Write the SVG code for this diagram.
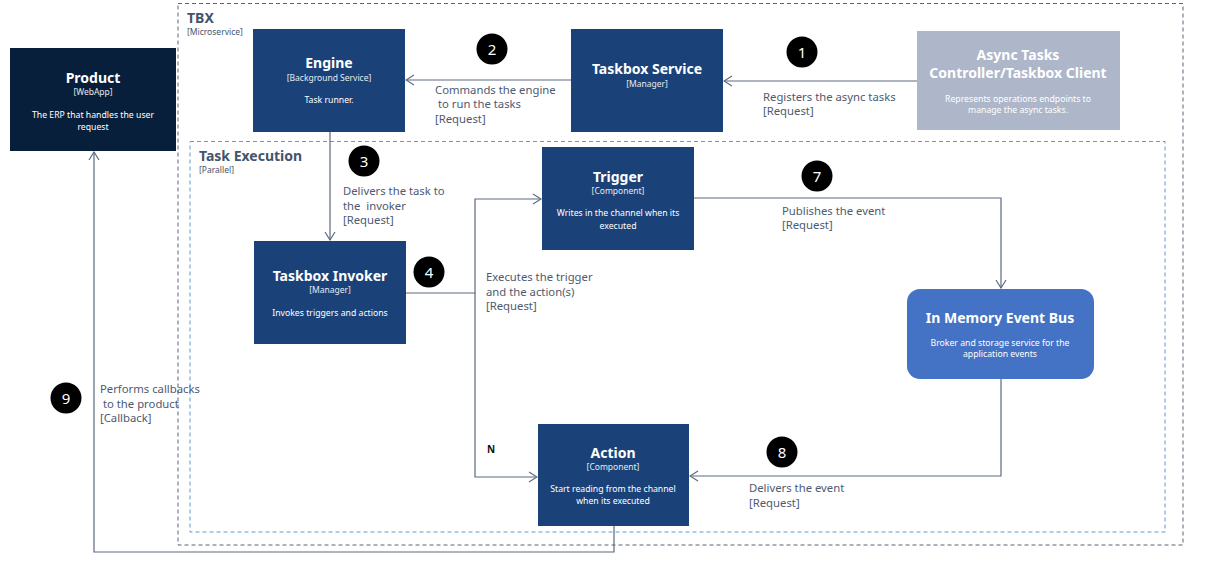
<svg xmlns="http://www.w3.org/2000/svg" width="1227" height="578" viewBox="0 0 1227 578">
<style>
text{font-family:"Noto Sans","Open Sans",sans-serif;white-space:pre}
.t{font-size:14px;font-weight:bold;fill:#fff;text-anchor:middle}
.s{font-size:8.5px;fill:#e6e9ef;text-anchor:middle}
.d{font-size:8.7px;fill:#fff;text-anchor:middle}
.l{font-size:11.3px;fill:#4e5a70}
.bt{font-size:14px;font-weight:bold;fill:#44546a}
.bs{font-size:8.5px;fill:#44546a}
.n{font-size:15px;fill:#fff;text-anchor:middle}
.c{fill:none;stroke:#5d6a80;stroke-width:1.2}
.dk{fill:#1a4279}
</style>
<defs>
<marker id="a" markerWidth="10" markerHeight="12" refX="9" refY="6" orient="auto" markerUnits="userSpaceOnUse">
<path d="M1,1 L9,6 L1,11" fill="none" stroke="#5d6a80" stroke-width="1.2"/>
</marker>
</defs>
<g id="tbx-boundary">
<rect x="178" y="3.5" width="1005" height="541.5" fill="none" stroke="#5a6474" stroke-width="1" stroke-dasharray="4,3"/>
<text class="bt" x="187" y="23">TBX</text>
<text class="bs" x="187" y="35">[Microservice]</text>
</g>
<g id="task-execution-boundary">
<rect x="190" y="141.5" width="975" height="390.5" fill="none" stroke="#5b9bd5" stroke-width="1" stroke-dasharray="4,3"/>
<text class="bt" x="199" y="161">Task Execution</text>
<text class="bs" x="199" y="173">[Parallel]</text>
</g>
<g id="connectors">
<line class="c" x1="917" y1="81" x2="724" y2="81" marker-end="url(#a)"/>
<line class="c" x1="571" y1="80" x2="406" y2="80" marker-end="url(#a)"/>
<line class="c" x1="330" y1="132" x2="330" y2="240" marker-end="url(#a)"/>
<polyline class="c" points="406,293 475,293 475,199 541,199" marker-end="url(#a)"/>
<polyline class="c" points="475,293 475,477 537,477" marker-end="url(#a)"/>
<polyline class="c" points="694,198 1001,198 1001,288" marker-end="url(#a)"/>
<polyline class="c" points="1001,379 1001,476 690,476" marker-end="url(#a)"/>
<polyline class="c" points="614,526 614,552 94,552 94,152" marker-end="url(#a)"/>
<text class="l" x="763" y="101">Registers the async tasks</text>
<text class="l" x="763" y="115">[Request]</text>
<text class="l" x="435" y="94">Commands the engine</text>
<text class="l" x="435" y="108"> to run the tasks</text>
<text class="l" x="435" y="123">[Request]</text>
<text class="l" x="343" y="195">Delivers the task to</text>
<text class="l" x="343" y="210">the  invoker</text>
<text class="l" x="343" y="224">[Request]</text>
<text class="l" x="486" y="281">Executes the trigger</text>
<text class="l" x="486" y="296">and the action(s)</text>
<text class="l" x="486" y="310">[Request]</text>
<text x="487" y="453" style="font-size:10px;font-weight:bold;fill:#111">N</text>
<text class="l" x="782" y="215">Publishes the event</text>
<text class="l" x="782" y="229">[Request]</text>
<text class="l" x="749" y="492">Delivers the event</text>
<text class="l" x="749" y="507">[Request]</text>
<text class="l" x="100" y="393">Performs callbacks</text>
<text class="l" x="100" y="408"> to the product</text>
<text class="l" x="100" y="422">[Callback]</text>
</g>
<g id="step-markers">
<circle cx="802" cy="52" r="15.5"/><text class="n" x="802" y="57.5">1</text>
<circle cx="492" cy="49" r="15.5"/><text class="n" x="492" y="54.5">2</text>
<circle cx="364" cy="161" r="15.5"/><text class="n" x="364" y="166.5">3</text>
<circle cx="429" cy="272" r="15.5"/><text class="n" x="429" y="277.5">4</text>
<circle cx="817" cy="176" r="15.5"/><text class="n" x="817" y="181.5">7</text>
<circle cx="782" cy="452" r="15.5"/><text class="n" x="782" y="457.5">8</text>
<circle cx="66" cy="398" r="15.5"/><text class="n" x="66" y="403.5">9</text>
</g>
<g id="product">
<rect x="10" y="48" width="166" height="103" fill="#081f3b"/>
<text class="t" x="93" y="83">Product</text>
<text class="s" x="93" y="95">[WebApp]</text>
<text class="d" x="93" y="118">The ERP that handles the user</text>
<text class="d" x="93" y="130">request</text>
</g>
<g id="engine">
<rect class="dk" x="253" y="29" width="152" height="103"/>
<text class="t" x="329" y="68">Engine</text>
<text class="s" x="329" y="81">[Background Service]</text>
<text class="d" x="329" y="103">Task runner.</text>
</g>
<g id="taskbox-service">
<rect class="dk" x="571" y="29" width="152" height="103"/>
<text class="t" x="647" y="74">Taskbox Service</text>
<text class="s" x="647" y="87">[Manager]</text>
</g>
<g id="async-tasks-controller">
<rect x="917" y="31" width="203" height="99" fill="#adb7c9"/>
<text class="t" x="1018" y="60">Async Tasks</text>
<text class="t" x="1018" y="78">Controller/Taskbox Client</text>
<text class="d" x="1018" y="102">Represents operations endpoints to</text>
<text class="d" x="1018" y="113">manage the async tasks.</text>
</g>
<g id="trigger">
<rect class="dk" x="542" y="147" width="152" height="103"/>
<text class="t" x="618" y="182">Trigger</text>
<text class="s" x="618" y="194">[Component]</text>
<text class="d" x="618" y="216">Writes in the channel when its</text>
<text class="d" x="618" y="229">executed</text>
</g>
<g id="taskbox-invoker">
<rect class="dk" x="254" y="241" width="152" height="103"/>
<text class="t" x="330" y="281">Taskbox Invoker</text>
<text class="s" x="330" y="293">[Manager]</text>
<text class="d" x="330" y="316">Invokes triggers and actions</text>
</g>
<g id="event-bus">
<rect x="907" y="289" width="187" height="90" rx="13" fill="#4472c4"/>
<text class="t" x="1000" y="323">In Memory Event Bus</text>
<text class="d" x="1000" y="346">Broker and storage service for the</text>
<text class="d" x="1000" y="357">application events</text>
</g>
<g id="action">
<rect class="dk" x="538" y="424" width="151" height="102"/>
<text class="t" x="613" y="458">Action</text>
<text class="s" x="613" y="470">[Component]</text>
<text class="d" x="613" y="492">Start reading from the channel</text>
<text class="d" x="613" y="504">when its executed</text>
</g>
</svg>
